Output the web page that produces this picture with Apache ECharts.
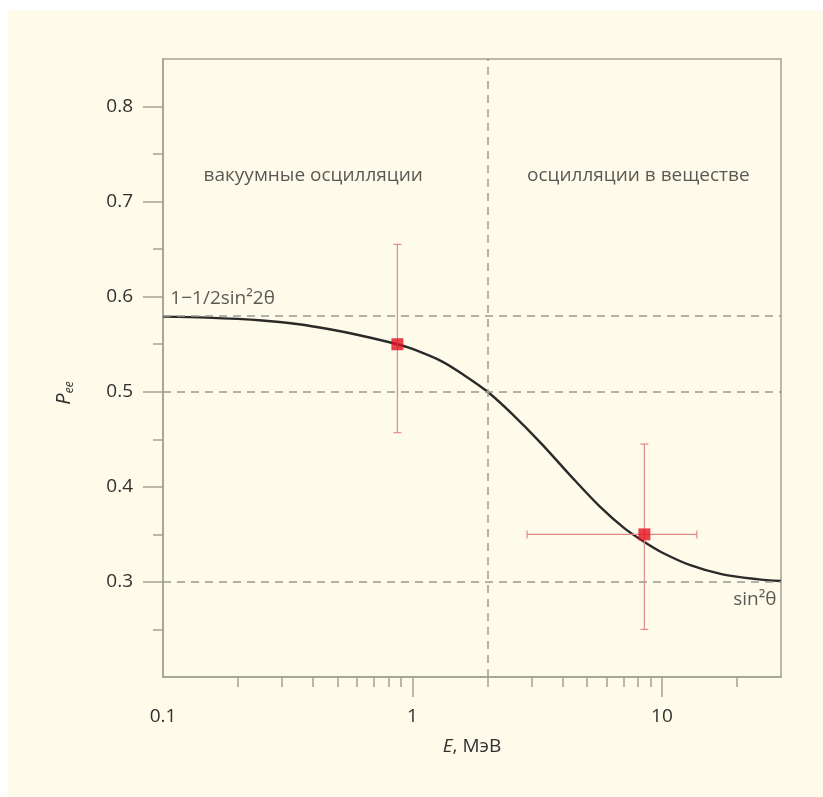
<!DOCTYPE html>
<html>
<head>
<meta charset="utf-8">
<script src="https://cdn.jsdelivr.net/npm/echarts@6/dist/echarts.min.js"></script>
<style>
  html, body { margin: 0; padding: 0; background: #ffffff; }
  #wrap { position: relative; width: 823px; height: 797px; background: #ffffff; }
  #panel { position: absolute; left: 8px; top: 10px; right: 0; bottom: 0; background: #FFFBEA; }
  #chart { position: absolute; left: 0; top: 0; width: 823px; height: 797px; }
</style>
</head>
<body>
<div id="wrap"><div id="panel"></div><div id="chart"></div></div>
<script>
// Curve P_ee(E)
const curveE = [0.1, 0.15, 0.25, 0.35, 0.46, 0.6, 0.87, 1.0, 1.31, 1.6, 2.0, 2.5, 3.3, 4.36, 5.6, 7.1, 8.5, 10, 12.9, 17.5, 24, 30];
const curveP = [0.579, 0.578, 0.575, 0.571, 0.566, 0.560, 0.550, 0.545, 0.532, 0.518, 0.500, 0.477, 0.445, 0.410, 0.380, 0.356, 0.342, 0.331, 0.318, 0.308, 0.303, 0.301];

// Measured points: E, P, P low, P high, E low, E high
const pointE = [0.87, 8.5];
const pointP = [0.55, 0.35];
const pointPlo = [0.457, 0.25];
const pointPhi = [0.655, 0.445];
const pointElo = [0.87, 2.88];
const pointEhi = [0.87, 13.8];

// Reference lines
const refLinesP = [0.58, 0.5, 0.3];
const refLineE = 2;

// Axes
const xMin = 0.1, xMax = 30;
const yMin = 0.2, yMax = 0.85;
const xMajorTicks = [1, 10];
const xMinorTicks = [0.2, 0.3, 0.4, 0.5, 0.6, 0.7, 0.8, 0.9, 2, 3, 4, 5, 6, 7, 8, 9, 20];
const xTickLabels = [0.1, 1, 10];
const yMajorTicks = [0.3, 0.4, 0.5, 0.6, 0.7, 0.8];
const yMinorTicks = [0.25, 0.35, 0.45, 0.55, 0.65, 0.75];

// Text annotations
const annotations = [
  { text: 'вакуумные осцилляции', E: 0.40, P: 0.727, align: 'center' },
  { text: 'осцилляции в веществе', E: 8.04, P: 0.727, align: 'center' },
  { text: '1−1/2sin²2θ', E: 0.107, P: 0.598, align: 'left' },
  { text: 'sin²θ', E: 28.8, P: 0.281, align: 'right' }
];

const FONT = 'Open Sans';
const TXT = '#303030';
const AXC = '#a3a294';
const DASH = '#9a9a92';

const chart = echarts.init(document.getElementById('chart'), null, { renderer: 'canvas' });

const curveData = curveE.map((e, i) => [e, curveP[i]]);
const pointData = pointE.map((e, i) => [e, pointP[i]]);
const errData = pointE.map((e, i) => [e, pointP[i], pointPlo[i], pointPhi[i], pointElo[i], pointEhi[i]]);
const annData = annotations.map(a => ({
  value: [a.E, a.P],
  label: { show: true, formatter: a.text, align: a.align, position: 'inside' }
}));

const xBase = {
  type: 'log', logBase: 10, min: xMin, max: xMax, gridIndex: 0, position: 'bottom',
  splitLine: { show: false }, minorTick: { show: false }, minorSplitLine: { show: false }
};
const yBase = {
  type: 'value', min: yMin, max: yMax, gridIndex: 0, position: 'left',
  splitLine: { show: false }
};

const option = {
  backgroundColor: 'transparent',
  animation: false,
  textStyle: { fontFamily: FONT },
  grid: {
    left: 163, right: 42, top: 59, bottom: 120,
    show: true, borderColor: AXC, borderWidth: 1.5, backgroundColor: 'transparent'
  },
  xAxis: [
    Object.assign({}, xBase, {
      name: '{i|E}, МэВ',
      nameLocation: 'middle', nameGap: 60,
      nameTextStyle: { color: TXT, fontSize: 19, fontFamily: FONT,
        rich: { i: { fontStyle: 'italic', fontSize: 19, color: TXT, fontFamily: FONT } } },
      axisLine: { show: true, lineStyle: { color: AXC, width: 1.5 } },
      axisTick: { show: true, inside: false, length: 20, customValues: xMajorTicks, lineStyle: { color: AXC, width: 1.5 } },
      axisLabel: { show: true, customValues: xTickLabels, margin: 30, color: TXT, fontSize: 19, fontFamily: FONT,
        formatter: v => String(+v.toPrecision(3)) }
    }),
    Object.assign({}, xBase, {
      axisLine: { show: false },
      axisTick: { show: true, inside: false, length: 10, customValues: xMinorTicks, lineStyle: { color: AXC, width: 1.5 } },
      axisLabel: { show: false }
    })
  ],
  yAxis: [
    Object.assign({}, yBase, {
      axisLine: { show: true, lineStyle: { color: AXC, width: 1.5 } },
      axisTick: { show: true, inside: false, length: 20, customValues: yMajorTicks, lineStyle: { color: AXC, width: 1.5 } },
      axisLabel: { show: true, customValues: yMajorTicks, margin: 30, color: TXT, fontSize: 19, fontFamily: FONT,
        formatter: v => (+v).toFixed(1) }
    }),
    Object.assign({}, yBase, {
      axisLine: { show: false },
      axisTick: { show: true, inside: false, length: 10, customValues: yMinorTicks, lineStyle: { color: AXC, width: 1.5 } },
      axisLabel: { show: false }
    })
  ],
  graphic: [
    {
      type: 'text', x: 64, y: 393, rotation: Math.PI / 2,
      style: {
        text: '{p|P}{s|ee}', align: 'center', verticalAlign: 'middle',
        rich: {
          p: { fontFamily: FONT, fontStyle: 'italic', fontSize: 20, lineHeight: 24, verticalAlign: 'middle', fill: TXT },
          s: { fontFamily: FONT, fontStyle: 'italic', fontSize: 12, lineHeight: 12, verticalAlign: 'bottom', fill: TXT }
        }
      }
    }
  ],
  series: [
    {
      type: 'line', name: 'ref', xAxisIndex: 0, yAxisIndex: 0, data: [], silent: true,
      markLine: {
        silent: true, symbol: 'none', label: { show: false },
        lineStyle: { type: [8, 6], color: DASH, width: 1.5 },
        data: refLinesP.map(p => ({ yAxis: p })).concat([{ xAxis: refLineE }])
      }
    },
    {
      type: 'line', name: 'Pee', xAxisIndex: 0, yAxisIndex: 0, data: curveData,
      smooth: 0.3, showSymbol: false, symbol: 'none',
      lineStyle: { color: '#2a2a2a', width: 2.4 }, z: 3
    },
    {
      type: 'custom', name: 'err', xAxisIndex: 0, yAxisIndex: 0, data: errData, z: 4,
      renderItem: function (params, api) {
        const x = api.value(0), y = api.value(1);
        const lo = api.coord([x, api.value(2)]);
        const hi = api.coord([x, api.value(3)]);
        const l = api.coord([api.value(4), y]);
        const r = api.coord([api.value(5), y]);
        const cap = 4;
        const st = { stroke: '#e58a8a', lineWidth: 1.2 };
        const ch = [
          { type: 'line', shape: { x1: lo[0], y1: lo[1], x2: hi[0], y2: hi[1] }, style: st },
          { type: 'line', shape: { x1: lo[0] - cap, y1: lo[1], x2: lo[0] + cap, y2: lo[1] }, style: st },
          { type: 'line', shape: { x1: hi[0] - cap, y1: hi[1], x2: hi[0] + cap, y2: hi[1] }, style: st }
        ];
        if (r[0] - l[0] > 1) {
          ch.push({ type: 'line', shape: { x1: l[0], y1: l[1], x2: r[0], y2: r[1] }, style: st });
          ch.push({ type: 'line', shape: { x1: l[0], y1: l[1] - cap, x2: l[0], y2: l[1] + cap }, style: st });
          ch.push({ type: 'line', shape: { x1: r[0], y1: r[1] - cap, x2: r[0], y2: r[1] + cap }, style: st });
        }
        return { type: 'group', children: ch };
      }
    },
    {
      type: 'scatter', name: 'points', xAxisIndex: 0, yAxisIndex: 0, data: pointData,
      symbol: 'rect', symbolSize: 12, itemStyle: { color: '#e2101f' }, z: 5
    },
    {
      type: 'scatter', name: 'labels', xAxisIndex: 0, yAxisIndex: 0, data: annData,
      symbolSize: 0, silent: true, z: 6,
      label: { show: true, color: TXT, fontSize: 19, fontFamily: FONT, verticalAlign: 'middle' }
    }
  ]
};
chart.setOption(option);
</script>
</body>
</html>
